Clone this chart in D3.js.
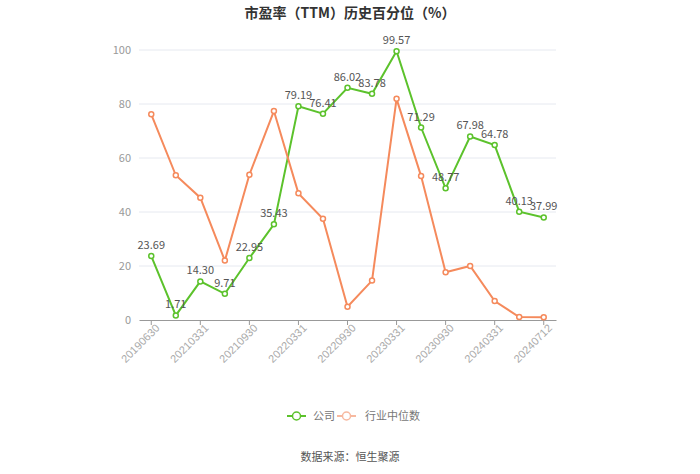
<!DOCTYPE html>
<html><head><meta charset="utf-8">
<script src="https://cdn.jsdelivr.net/npm/d3@7"></script>
<style>body{margin:0;background:#fff;font-family:"Noto Sans CJK SC","Noto Sans",sans-serif;}</style>
</head><body><svg id="c" width="700" height="474"></svg>
<script>
const dates = ["20190630","20191231","20210331","20210630","20210930","20211231","20220331","20220630","20220930","20221231","20230331","20230630","20230930","20231231","20240331","20240630","20240712"];
const company = [23.69,1.71,14.30,9.71,22.95,35.43,79.19,76.41,86.02,83.78,99.57,71.29,48.77,67.98,64.78,40.13,37.99];
const industry = [76.2,53.6,45.3,22.0,53.8,77.4,46.9,37.5,4.9,14.6,81.9,53.3,17.7,20.0,7.0,1.1,1.0];
const yTicks = [0,20,40,60,80,100];
const shownLabels = ["20190630","20210331","20210930","20220331","20220930","20230331","20230930","20240331","20240712"];
const seriesNames = ["公司","行业中位数"];
const colors = ["#5cc22c","#f58a5c"];

const svg = d3.select("#c");
const L=139, R=556, T=50, B=320;
const x = d3.scaleBand().domain(dates).range([L,R]);
const cx = d => x(d)+x.bandwidth()/2;
const y = d3.scaleLinear().domain([0,100]).range([B,T]);

svg.append("text").attr("x",350).attr("y",18).attr("text-anchor","middle")
  .attr("font-size",14).attr("font-weight","bold").attr("fill","#333").text("市盈率（TTM）历史百分位（%）");

// grid
svg.append("g").selectAll("line").data(yTicks.filter(t=>t>0)).join("line")
  .attr("x1",L).attr("x2",R).attr("y1",d=>y(d)).attr("y2",d=>y(d))
  .attr("stroke","#e6e9f0").attr("stroke-width",1);
svg.append("g").selectAll("text").data(yTicks).join("text")
  .attr("x",L-8).attr("y",d=>y(d)+4).attr("text-anchor","end")
  .attr("font-size",11).attr("fill","#999").text(d=>d);

// x axis
const xa = svg.append("g").attr("transform",`translate(0,${B})`)
  .call(d3.axisBottom(x).tickValues(shownLabels).tickSize(5).tickSizeOuter(0));
xa.select(".domain").attr("stroke","#999");
xa.selectAll(".tick line").attr("stroke","#999");
xa.selectAll(".tick text").attr("fill","#aaa").attr("font-size",11)
  .attr("text-anchor","end").attr("dx","0.2em").attr("dy","0.6em")
  .attr("transform","rotate(-45)").attr("x",-2).attr("y",6);

const line = d3.line().x((d,i)=>cx(dates[i])).y(d=>y(d));
[company, industry].forEach((s,k)=>{
  const g = svg.append("g");
  g.append("path").datum(s).attr("d",line).attr("fill","none").attr("stroke",colors[k]).attr("stroke-width",2);
  g.selectAll("circle").data(s).join("circle").attr("cx",(d,i)=>cx(dates[i])).attr("cy",d=>y(d))
    .attr("r",2.5).attr("fill","#fff").attr("stroke",colors[k]).attr("stroke-width",1.5);
});
// labels
svg.append("g").selectAll("text").data(company).join("text")
  .attr("x",(d,i)=>cx(dates[i])).attr("y",d=>y(d)-7).attr("text-anchor","middle")
  .attr("font-size",11).attr("fill","#555").text(d=>d.toFixed(2));

// legend
const lg = svg.append("g");
const items = [{x:287,tx:313},{x:337,tx:365}];
items.forEach((it,k)=>{
  lg.append("line").attr("x1",it.x).attr("x2",it.x+19).attr("y1",416).attr("y2",416).attr("stroke",k==0?colors[0]:"#f7b9a0").attr("stroke-width",2);
  lg.append("circle").attr("cx",it.x+9.5).attr("cy",416).attr("r",4).attr("fill","#fff").attr("stroke",k==0?colors[0]:"#f7b9a0").attr("stroke-width",1.5);
  lg.append("text").attr("x",it.tx).attr("y",420).attr("font-size",11).attr("fill","#777").text(seriesNames[k]);
});
svg.append("text").attr("x",350).attr("y",461).attr("text-anchor","middle").attr("font-size",11).attr("fill","#555").text("数据来源：恒生聚源");
</script></body></html>
